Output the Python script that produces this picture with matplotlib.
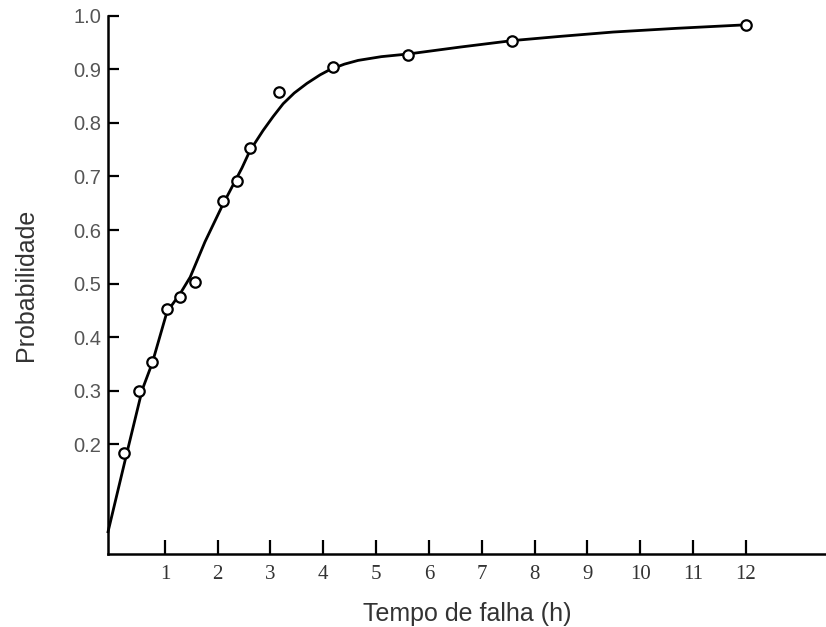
import matplotlib
matplotlib.use("Agg")
import matplotlib.pyplot as plt

# observed failure points (time in h, probability)
tempo = [0.23, 0.51, 0.76, 1.04, 1.29, 1.57, 2.10, 2.37, 2.61, 3.16, 4.19, 5.61, 7.58, 12.0]
prob = [0.183, 0.299, 0.353, 0.452, 0.475, 0.503, 0.654, 0.692, 0.753, 0.858, 0.904, 0.927, 0.953, 0.983]

# fitted curve
curva_t = [-0.076, 0.28, 0.57, 0.76, 1.04, 1.29, 1.48, 1.76, 2.1, 2.46, 2.61, 2.86, 3.05,
           3.24, 3.45, 3.69, 3.94, 4.13, 4.4, 4.66, 5.1, 5.61, 6.6, 7.58, 8.5, 9.49, 10.7,
           11.9, 12.0]
curva_p = [0.036, 0.183, 0.301, 0.351, 0.447, 0.481, 0.512, 0.578, 0.648, 0.716, 0.748,
           0.786, 0.812, 0.836, 0.856, 0.874, 0.890, 0.900, 0.910, 0.917, 0.924, 0.929,
           0.942, 0.954, 0.962, 0.970, 0.977, 0.983, 0.984]

xticks = list(range(1, 13))
yticks = [0.2, 0.3, 0.4, 0.5, 0.6, 0.7, 0.8, 0.9, 1.0]

fig = plt.figure(figsize=(8.26, 6.27), dpi=100)
ax = fig.add_axes([0.1308, 0.1164, 0.8692, 0.8581])

ax.plot(curva_t, curva_p, color="black", lw=2.0, solid_joinstyle="round", clip_on=False)
ax.plot(tempo, prob, "o", ms=7.5, mfc="white", mec="black", mew=1.6, clip_on=False)

ax.set_xlim(-0.076, 13.52)
ax.set_ylim(-0.0056, 1.0)

for s in ["top", "right"]:
    ax.spines[s].set_visible(False)
for s in ["left", "bottom"]:
    ax.spines[s].set_linewidth(1.8)

ax.set_xticks(xticks)
ax.set_xticklabels([str(v) for v in xticks], fontfamily="Liberation Serif", fontsize=15, color="#333333")
ax.set_yticks(yticks)
ax.set_yticklabels(["%.1f" % v for v in yticks], fontfamily="Liberation Sans", fontsize=14.5, color="#555555")
ax.tick_params(axis="x", direction="in", length=10, width=1.6, pad=8)
ax.tick_params(axis="y", direction="in", length=8, width=1.6, pad=5)

ax.set_xlabel("Tempo de falha (h)", fontfamily="Liberation Sans", fontsize=18, color="#333333", labelpad=13)
ax.set_ylabel("Probabilidade", fontfamily="Liberation Sans", fontsize=18, color="#333333", labelpad=25)

fig.savefig("out.png", dpi=100)
